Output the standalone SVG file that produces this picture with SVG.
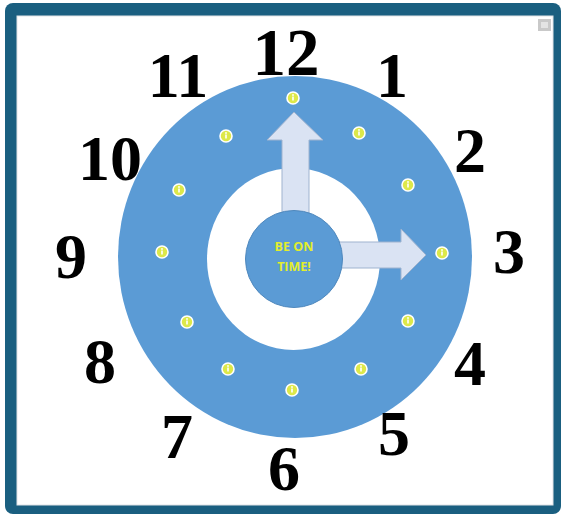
<svg xmlns="http://www.w3.org/2000/svg" width="561" height="514" viewBox="0 0 561 514">
<defs>
<style>
.num{font-family:"Liberation Serif","Times New Roman",serif;font-weight:bold;font-size:64px;fill:#000;text-anchor:middle}
.arrow{fill:#dae3f3;stroke:#9fb3cf;stroke-width:1}
.lbl{font-family:"Open Sans","Liberation Sans",sans-serif;font-weight:bold;font-size:12.5px;fill:#e3ee2c;text-anchor:middle}
</style>
<g id="tick">
<circle cx="0" cy="0" r="6" fill="#dde84a" stroke="#ffffff" stroke-width="1.6"/>
<rect x="-0.8" y="-1.5" width="1.6" height="4" fill="#ffffff"/>
<circle cx="0" cy="-3" r="0.9" fill="#ffffff"/>
</g>
</defs>
<g id="frame">
<rect x="5" y="3" width="556" height="511" rx="8" fill="#1a5f80"/>
<rect x="17" y="16" width="536" height="489" fill="#ffffff" stroke="#dfe3e6" stroke-width="1"/>
<rect x="538" y="19" width="13" height="12" fill="#c9c9c9"/>
<rect x="541" y="22" width="7" height="6" fill="#e4e4e4"/>
</g>
<g id="ring">
<ellipse cx="295" cy="257" rx="177" ry="181" fill="#5b9bd5"/>
<ellipse cx="293.5" cy="259" rx="86.5" ry="91" fill="#ffffff"/>
</g>
<g id="connectors">
<path id="hour-hand" class="arrow" d="M282,215 L282,140 L267,140 L294,112 L323,140 L309,140 L309,215 Z"/>
<path id="minute-hand" class="arrow" d="M330,242 L401,242 L401,229 L426,255 L401,280 L401,268 L330,268 Z"/>
</g>
<g id="center">
<circle cx="294" cy="259" r="48.5" fill="#5b9bd5" stroke="#4f88bd" stroke-width="1"/>
<text class="lbl" x="294" y="251">BE ON</text>
<text class="lbl" x="294" y="271">TIME!</text>
</g>
<g id="dots">
<use href="#tick" x="293" y="98"/>
<use href="#tick" x="359" y="133"/>
<use href="#tick" x="408" y="185"/>
<use href="#tick" x="442" y="253"/>
<use href="#tick" x="408" y="321"/>
<use href="#tick" x="361" y="369"/>
<use href="#tick" x="292" y="390"/>
<use href="#tick" x="228" y="369"/>
<use href="#tick" x="187" y="322"/>
<use href="#tick" x="162" y="252"/>
<use href="#tick" x="179" y="190"/>
<use href="#tick" x="226" y="136"/>
</g>
<g id="numbers">
<g id="n12"><text class="num" x="286" y="75" style="font-size:67px">12</text></g>
<g id="n1"><text class="num" x="392" y="97">1</text></g>
<g id="n2"><text class="num" x="470" y="172">2</text></g>
<g id="n3"><text class="num" x="509" y="273">3</text></g>
<g id="n4"><text class="num" x="470" y="385">4</text></g>
<g id="n5"><text class="num" x="394" y="455">5</text></g>
<g id="n6"><text class="num" x="284" y="490">6</text></g>
<g id="n7"><text class="num" x="177" y="458">7</text></g>
<g id="n8"><text class="num" x="100" y="383">8</text></g>
<g id="n9"><text class="num" x="71" y="278">9</text></g>
<g id="n10"><text class="num" x="110" y="180">10</text></g>
<g id="n11"><text class="num" x="178" y="97">11</text></g>
</g>
</svg>
